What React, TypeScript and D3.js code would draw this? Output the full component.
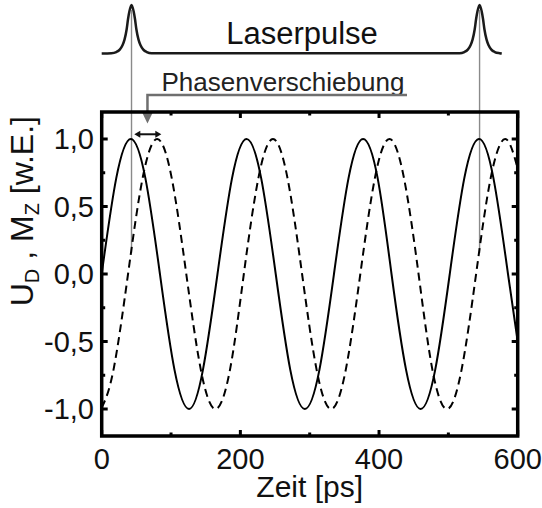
import React from "react";
import * as d3 from "d3";

const WIDTH = 542;
const HEIGHT = 508;

// Detector signal U_D (solid), sampled in ps
const uTimes = [0, 21, 42, 63, 84, 105, 126, 146, 167, 188, 209, 230, 251, 272, 293, 314, 335, 356, 377, 398, 418, 439, 460, 481, 502, 523, 544, 565, 586, 600];
const uValues = [0, 0.71, 1, 0.71, 0, -0.71, -1, -0.71, 0, 0.71, 1, 0.71, 0, -0.71, -1, -0.71, 0, 0.71, 1, 0.71, 0, -0.71, -1, -0.71, 0, 0.71, 1, 0.71, 0, -0.5];

// Magnetisation M_Z (dashed), sampled in ps
const mTimes = [0, 17, 38, 59, 80, 101, 122, 143, 164, 185, 205, 226, 247, 268, 289, 310, 331, 352, 373, 394, 415, 436, 457, 477, 498, 519, 540, 561, 582, 600];
const mValues = [-0.99, -0.71, 0, 0.71, 1, 0.71, 0, -0.71, -1, -0.71, 0, 0.71, 1, 0.71, 0, -0.71, -1, -0.71, 0, 0.71, 1, 0.71, 0, -0.71, -1, -0.71, 0, 0.71, 1, 0.78];

// Laser pulse arrival times (ps) and pulse profile
const pulseTimes = [43, 545];
const pulseOffsets = [-29, -22, -17, -13, -10, -7, -5, -3, 0, 3, 5, 7, 10, 13, 17, 22, 29];
const pulseAmps = [0.006, 0.03, 0.08, 0.17, 0.29, 0.5, 0.71, 0.87, 1, 0.87, 0.71, 0.5, 0.29, 0.17, 0.08, 0.03, 0.006];
const pulseTraceEnd = 577;

// Phase shift marker between the two maxima (ps)
const shiftStart = 47;
const shiftEnd = 86;
const shiftLevel = 1.035;
const shiftPointer = 66;

const xMajor = [0, 200, 400, 600];
const xMinor = [100, 300, 500];
const yMajor = [-1, -0.5, 0, 0.5, 1];
const yMinor = [-0.75, -0.25, 0.25, 0.75];

const FONT = "'Liberation Sans', Arial, Helvetica, sans-serif";

const left = 101.7;
const right = 517.7;
const top = 112;
const bottom = 436;

const x = d3.scaleLinear().domain([0, 600]).range([left, right]);
const y = d3.scaleLinear().domain([-1.2, 1.2]).range([bottom, top]);
const yPulse = d3.scaleLinear().domain([0, 1]).range([53.5, 5]);

const fmt = d3
  .formatLocale({ decimal: ",", thousands: ".", grouping: [3], currency: ["", "€"], minus: "-" })
  .format(".1f");

type Pt = [number, number];

const line = d3
  .line<Pt>()
  .x((d) => x(d[0]))
  .y((d) => y(d[1]))
  .curve(d3.curveNatural);

const pulseLine = d3
  .line<Pt>()
  .x((d) => x(d[0]))
  .y((d) => yPulse(d[1]))
  .curve(d3.curveMonotoneX);

function pulsePoints(): Pt[] {
  const pts: Pt[] = [[0, 0]];
  pulseTimes.forEach((c) => {
    pulseOffsets.forEach((o, i) => pts.push([c + o, pulseAmps[i]]));
  });
  pts.push([pulseTraceEnd, 0]);
  return pts;
}

export default function App() {
  const uPts: Pt[] = uTimes.map((t, i) => [t, uValues[i]]);
  const mPts: Pt[] = mTimes.map((t, i) => [t, mValues[i]]);

  const majorLen = 6;
  const minorLen = 3.5;

  const ax1 = x(shiftStart);
  const ax2 = x(shiftEnd);
  const ay = y(shiftLevel);
  const px = x(shiftPointer);

  return (
    <div style={{ position: "absolute", left: 0, top: 0 }}>
      <svg width={WIDTH} height={HEIGHT} viewBox={`0 0 ${WIDTH} ${HEIGHT}`} style={{ display: "block", background: "#fff" }}>
        <defs>
          <clipPath id="plot-area">
            <rect x={left} y={top} width={right - left} height={bottom - top} />
          </clipPath>
        </defs>

        {/* laser pulse train */}
        <path d={pulseLine(pulsePoints()) || ""} fill="none" stroke="#1a1a1a" strokeWidth={2.5} strokeLinejoin="round" />
        <text x={302} y={44} fontFamily={FONT} fontSize={31} textAnchor="middle" fill="#111">
          Laserpulse
        </text>

        {/* pulse markers */}
        {pulseTimes.map((t) => (
          <line key={t} x1={x(t)} x2={x(t)} y1={10} y2={253} stroke="#8a8a8a" strokeWidth={1.4} />
        ))}

        {/* curves */}
        <g clipPath="url(#plot-area)">
          <path d={line(uPts) || ""} fill="none" stroke="#000" strokeWidth={2} />
          <path d={line(mPts) || ""} fill="none" stroke="#000" strokeWidth={2} strokeDasharray="8 5" />
        </g>

        {/* phase shift annotation */}
        <text x={161.5} y={91} fontFamily={FONT} fontSize={26} fill="#222">
          Phasenverschiebung
        </text>
        <path d={`M${407},${95} H${px} V${112}`} fill="none" stroke="#6f6f6f" strokeWidth={2.5} />
        <polygon points={`${px - 6},${111} ${px + 6},${111} ${px},${123.5}`} fill="#6f6f6f" />
        <line x1={ax1 + 4} x2={ax2 - 4} y1={ay} y2={ay} stroke="#111" strokeWidth={2} />
        <polygon points={`${ax1},${ay} ${ax1 + 6},${ay - 3.5} ${ax1 + 6},${ay + 3.5}`} fill="#111" />
        <polygon points={`${ax2},${ay} ${ax2 - 6},${ay - 3.5} ${ax2 - 6},${ay + 3.5}`} fill="#111" />

        {/* ticks */}
        <g stroke="#000" strokeWidth={3}>
          {xMajor.map((t) => (
            <g key={`xM${t}`}>
              <line x1={x(t)} x2={x(t)} y1={bottom} y2={bottom - majorLen} />
              <line x1={x(t)} x2={x(t)} y1={top} y2={top + majorLen} />
            </g>
          ))}
          {xMinor.map((t) => (
            <g key={`xm${t}`}>
              <line x1={x(t)} x2={x(t)} y1={bottom} y2={bottom - minorLen} />
              <line x1={x(t)} x2={x(t)} y1={top} y2={top + minorLen} />
            </g>
          ))}
          {yMajor.map((v) => (
            <g key={`yM${v}`}>
              <line x1={left} x2={left + majorLen} y1={y(v)} y2={y(v)} />
              <line x1={right} x2={right - majorLen} y1={y(v)} y2={y(v)} />
            </g>
          ))}
          {yMinor.map((v) => (
            <g key={`ym${v}`}>
              <line x1={left} x2={left + minorLen} y1={y(v)} y2={y(v)} />
              <line x1={right} x2={right - minorLen} y1={y(v)} y2={y(v)} />
            </g>
          ))}
        </g>

        {/* frame */}
        <rect x={left} y={top} width={right - left} height={bottom - top} fill="none" stroke="#000" strokeWidth={3.5} />

        {/* tick labels */}
        {xMajor.map((t) => (
          <text key={`xl${t}`} x={x(t)} y={469} fontFamily={FONT} fontSize={29} textAnchor="middle" fill="#111">
            {t}
          </text>
        ))}
        {yMajor.map((v) => (
          <text key={`yl${v}`} x={94} y={y(v)} dy="0.36em" fontFamily={FONT} fontSize={29} textAnchor="end" fill="#111">
            {fmt(v)}
          </text>
        ))}

        {/* axis titles */}
        <text x={(left + right) / 2} y={497} fontFamily={FONT} fontSize={30} textAnchor="middle" fill="#111">
          Zeit [ps]
        </text>
        <text transform={`translate(33, 116) rotate(-90)`} fontFamily={FONT} fontSize={32} textAnchor="end" fill="#111">
          U
          <tspan dy={6} fontSize={20}>D</tspan>
          <tspan dy={-6}> , M</tspan>
          <tspan dy={6} fontSize={20}>Z</tspan>
          <tspan dy={-6}> [w.E.]</tspan>
        </text>
      </svg>
    </div>
  );
}
